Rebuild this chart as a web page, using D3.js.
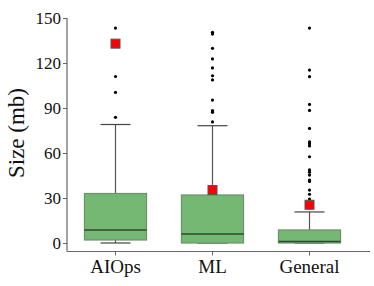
<!DOCTYPE html>
<html>
<head>
<meta charset="utf-8">
<script src="https://d3js.org/d3.v7.min.js"></script>
<style>
  body { margin: 0; background: #fff; }
  text { font-family: "Liberation Serif", "Times New Roman", serif; fill: #111; }
</style>
</head>
<body>
<script>
var width = 374, height = 286;
var margin = { top: 18, right: 4, bottom: 35, left: 67 };

// data
var categories = ['AIOps', 'ML', 'General'];
var whiskLow  = [0, 0, 0];
var q1        = [2, 0, 0];
var medians   = [8.7, 6, 1];
var q3        = [33, 32, 8.7];
var whiskHigh = [79, 78.2, 20.7];
var means     = [132.9, 35.3, 25.5];
var outliersAIOps   = [143.3, 111, 100.4, 83.8];
var outliersML      = [140.5, 139.3, 129.8, 122.7, 116.7, 111.5, 108.7, 95.3, 88.2, 87.1, 80.7];
var outliersGeneral = [143.3, 115.3, 110.9, 92.4, 88.4, 76.4, 67.5, 66.2, 64.7, 57.5, 48.7, 47.2, 45.3, 42, 41, 35.3, 32.5, 29.3, 24, 23.3];
var yTicks = [0, 30, 60, 90, 120, 150];

var outliers = [outliersAIOps, outliersML, outliersGeneral];

var svg = d3.select('body').append('svg')
  .attr('width', width).attr('height', height);

var x = d3.scaleBand().domain(categories)
  .range([margin.left, 358])
  .paddingInner(0.36).paddingOuter(0.18);
var y = d3.scaleLinear().domain([0, 150]).range([243, margin.top]);

var axisY = 251.5;

// axes
var yAxis = svg.append('g')
  .attr('transform', 'translate(' + margin.left + ',0)')
  .call(d3.axisLeft(y).tickValues(yTicks).tickSize(4).tickPadding(2));
yAxis.select('.domain').remove();
yAxis.selectAll('line').attr('stroke', '#666');
yAxis.selectAll('text').style('font-size', '17px').style('font-family', '"Liberation Serif", serif').attr('fill', '#111');

svg.append('line')
  .attr('x1', margin.left).attr('x2', margin.left)
  .attr('y1', margin.top).attr('y2', axisY)
  .attr('stroke', '#666').attr('stroke-width', 1.2);

var xAxis = svg.append('g')
  .attr('transform', 'translate(0,' + axisY + ')')
  .call(d3.axisBottom(x).tickSize(4).tickPadding(4));
xAxis.select('.domain').remove();
xAxis.selectAll('line').attr('stroke', '#666');
xAxis.selectAll('text').style('font-size', '19px').style('font-family', '"Liberation Serif", serif').attr('fill', '#111');

svg.append('line')
  .attr('x1', margin.left).attr('x2', 370)
  .attr('y1', axisY).attr('y2', axisY)
  .attr('stroke', '#666').attr('stroke-width', 1.2);

svg.append('text')
  .attr('transform', 'translate(24,133) rotate(-90)')
  .attr('text-anchor', 'middle')
  .style('font-size', '23px')
  .text('Size (mb)');

// boxes
var bw = x.bandwidth();
var groups = svg.selectAll('.box').data(categories).enter().append('g').attr('class', 'box');

groups.append('line')
  .attr('x1', function(d) { return x(d) + bw / 2; })
  .attr('x2', function(d) { return x(d) + bw / 2; })
  .attr('y1', function(d, i) { return y(whiskHigh[i]); })
  .attr('y2', function(d, i) { return y(whiskLow[i]); })
  .attr('stroke', '#555').attr('stroke-width', 1.2);

[whiskHigh, whiskLow].forEach(function(arr) {
  groups.append('line')
    .attr('x1', function(d) { return x(d) + bw / 2 - 15; })
    .attr('x2', function(d) { return x(d) + bw / 2 + 15; })
    .attr('y1', function(d, i) { return y(arr[i]); })
    .attr('y2', function(d, i) { return y(arr[i]); })
    .attr('stroke', '#444').attr('stroke-width', 1.2);
});

groups.append('rect')
  .attr('x', function(d) { return x(d); })
  .attr('width', bw)
  .attr('y', function(d, i) { return y(q3[i]); })
  .attr('height', function(d, i) { return y(q1[i]) - y(q3[i]); })
  .attr('fill', '#74b873')
  .attr('stroke', '#6f8f6e').attr('stroke-width', 1.2);

groups.append('line')
  .attr('x1', function(d) { return x(d); })
  .attr('x2', function(d) { return x(d) + bw; })
  .attr('y1', function(d, i) { return y(medians[i]); })
  .attr('y2', function(d, i) { return y(medians[i]); })
  .attr('stroke', '#2c4a2c').attr('stroke-width', 1.6);

groups.each(function(d, i) {
  d3.select(this).selectAll('circle').data(outliers[i]).enter().append('circle')
    .attr('cx', x(d) + bw / 2)
    .attr('cy', function(v) { return y(v); })
    .attr('r', 1.6)
    .attr('fill', '#000');
});

groups.append('rect')
  .attr('x', function(d) { return x(d) + bw / 2 - 4.5; })
  .attr('y', function(d, i) { return y(means[i]) - 4.5; })
  .attr('width', 9).attr('height', 9)
  .attr('fill', '#ff0000')
  .attr('stroke', '#555').attr('stroke-width', 1);
</script>
</body>
</html>
